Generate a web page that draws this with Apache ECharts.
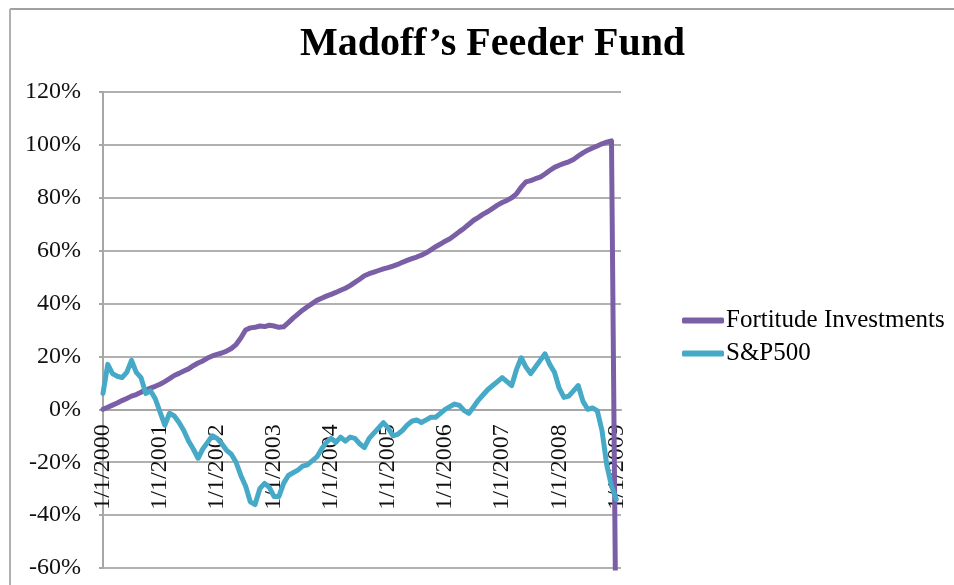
<!DOCTYPE html>
<html>
<head>
<meta charset="utf-8">
<script src="https://cdn.jsdelivr.net/npm/echarts@6/dist/echarts.min.js"></script>
<style>
html,body{margin:0;padding:0;background:#fff;}
#c{width:954px;height:585px;}
</style>
</head>
<body>
<div id="c"></div>
<script>
// Monthly categories Jan 2000 .. Feb 2009 (label text m/1/yyyy)
var startYear = 2000;
var monthCount = 110;
var categories = [];
for (var k = 0; k < monthCount; k++) {
  var y = startYear + Math.floor(k / 12);
  var m = (k % 12) + 1;
  categories.push(m + '/1/' + y);
}

var seriesNames = ['Fortitude Investments', 'S&P500'];

// Fortitude Investments (cumulative %), Jan 2000 .. Jan 2009
var fortitude = [
  0, 0.8, 1.6, 2.4, 3.3, 4.1, 5, 5.6, 6.5, 7.3, 8.0, 8.7,
  9.5, 10.5, 11.6, 12.8, 13.6, 14.5, 15.3, 16.5, 17.5, 18.3, 19.4, 20.2,
  20.8, 21.3, 22, 23, 24.5, 27, 30, 30.8, 31, 31.5, 31.3, 31.8,
  31.5, 31, 31.2, 32.8, 34.5, 36, 37.5, 38.8, 40, 41.2, 42, 42.8,
  43.5, 44.2, 45, 45.8, 46.8, 48, 49.2, 50.5, 51.3, 51.9, 52.5, 53.1,
  53.6, 54.2, 54.8, 55.6, 56.3, 57, 57.6, 58.3, 59.2, 60.3, 61.5, 62.5,
  63.6, 64.5, 65.8, 67.2, 68.5, 70, 71.5, 72.6, 73.8, 74.8, 76, 77.2,
  78.2, 79, 80, 81.5, 84, 86, 86.5, 87.2, 87.8, 89, 90.3, 91.5,
  92.3, 93, 93.6, 94.5, 95.8, 97, 98, 98.8, 99.6, 100.4, 101, 101.5,
  -100
];

// S&P500 (cumulative %), Jan 2000 .. Jan 2009
var sp500 = [
  6, 17, 13.5, 12.5, 12, 14, 18.5, 14, 12, 6, 7, 4,
  -1, -6, -1.5, -2.5, -5, -8, -12, -15, -18.5, -15, -12.5, -10,
  -11, -13, -15.5, -17, -20, -25, -29, -35, -36, -30, -28, -29.5,
  -33, -33, -28, -25, -24, -23, -21.5, -21, -19.5, -18, -15, -12.5,
  -11, -12.5, -10.5, -12, -10.5, -11, -13, -14.5, -11, -9, -7, -5,
  -7, -10, -9.5, -8, -6, -4.5, -4, -5, -4, -3, -3, -1.5,
  0, 1, 2, 1.5, -0.5, -1.5, 1, 3.5, 5.5, 7.5, 9, 10.5,
  12, 10.5, 9, 15, 19.5, 16, 13.5, 16, 18.5, 21, 17, 14,
  8, 4.5, 5, 7, 9, 3, 0, 0.5, -0.5, -8, -21, -29,
  -34
];

var yMin = -60, yMax = 120, yStep = 20;

var gridTop = 92, gridBottom = 17, gridLeft = 103, gridRight = 333;
var gridHeight = 585 - gridTop - gridBottom;
// shift the category axis up so that it crosses the value axis at 0
var zeroOffset = -gridHeight * (0 - yMin) / (yMax - yMin);

var chart = echarts.init(document.getElementById('c'), null, {renderer: 'canvas'});
var serif = '"Liberation Serif","Times New Roman",serif';

chart.setOption({
  animation: false,
  backgroundColor: '#ffffff',
  title: {
    text: 'Madoff\u2019s Feeder Fund',
    left: 295,
    top: 20,
    textStyle: {fontFamily: serif, fontSize: 40, fontWeight: 'bold', color: '#000'}
  },
  graphic: [
    {type: 'line', shape: {x1: 10, y1: 9, x2: 954, y2: 9}, style: {stroke: '#a0a0a0', lineWidth: 2}},
    {type: 'line', shape: {x1: 10, y1: 9, x2: 10, y2: 585}, style: {stroke: '#b0b0b0', lineWidth: 2}}
  ],
  legend: {
    orient: 'vertical',
    left: 677,
    top: 302,
    itemWidth: 42,
    itemHeight: 6,
    itemGap: 6,
    icon: 'roundRect',
    textStyle: {fontFamily: serif, fontSize: 25, color: '#000', padding: [0, 0, 0, -3], lineHeight: 27},
    data: seriesNames
  },
  grid: {left: gridLeft, right: gridRight, top: gridTop, bottom: gridBottom, containLabel: false, outerBoundsMode: 'none'},
  xAxis: {
    type: 'category',
    data: categories,
    boundaryGap: false,
    position: 'bottom',
    offset: zeroOffset,
    axisLine: {onZero: false, lineStyle: {color: '#a6a6a6', width: 2}},
    axisTick: {show: false},
    axisLabel: {
      interval: 11,
      rotate: 90,
      margin: 15,
      fontFamily: serif,
      fontSize: 24,
      color: '#111'
    },
    splitLine: {show: false}
  },
  yAxis: {
    type: 'value',
    min: yMin,
    max: yMax,
    interval: yStep,
    axisLine: {show: true, lineStyle: {color: '#a6a6a6', width: 2}},
    axisTick: {show: true, length: 4, lineStyle: {color: '#a6a6a6', width: 2}},
    axisLabel: {
      formatter: '{value}%',
      margin: 22,
      fontFamily: serif,
      fontSize: 24,
      color: '#111'
    },
    splitLine: {show: true, lineStyle: {color: '#b0b0b0', width: 2}}
  },
  series: [
    {
      name: seriesNames[0],
      type: 'line',
      data: fortitude,
      showSymbol: false,
      symbol: 'none',
      clip: true,
      color: '#7b5fa6',
      lineStyle: {width: 5, color: '#7b5fa6', cap: 'round', join: 'round'},
      z: 3
    },
    {
      name: seriesNames[1],
      type: 'line',
      data: sp500,
      showSymbol: false,
      symbol: 'none',
      clip: true,
      color: '#45a9c7',
      lineStyle: {width: 5, color: '#45a9c7', cap: 'round', join: 'round'},
      z: 4
    }
  ]
});
</script>
</body>
</html>
